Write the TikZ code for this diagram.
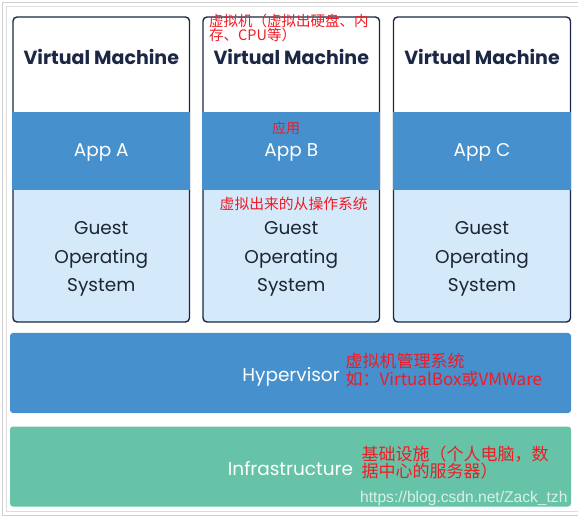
\documentclass[tikz,border=0pt]{standalone}
\usepackage{fontspec}
\setmainfont{Poppins}
\newfontfamily\cjk{Noto Sans CJK SC}
\newfontfamily\wmfont{Liberation Sans}
\definecolor{navy}{HTML}{1B2744}
\definecolor{appblue}{HTML}{4590CD}
\definecolor{osblue}{HTML}{D4E9F9}
\definecolor{infragreen}{HTML}{66C3A7}
\definecolor{notered}{HTML}{EE1C25}
\definecolor{framegray}{HTML}{CFCFCF}
\definecolor{textdark}{HTML}{1E2533}
\tikzset{
  vmtitle/.style={font=\fontsize{19}{22}\selectfont\bfseries, text=navy, inner sep=0pt},
  apptext/.style={font=\fontsize{18.5}{22}\selectfont, text=white, inner sep=0pt},
  ostext/.style={font=\fontsize{18.5}{28.5}\selectfont, text=textdark, align=center, inner sep=0pt},
  layerbox/.style={rounded corners=3pt, minimum width=561pt, minimum height=80pt, inner sep=0pt,
     fill=#1},
  layertext/.style={text=white, font=\fontsize{18.5}{22}\selectfont, inner sep=0pt},
  note/.style={text=notered, inner sep=0pt, align=left, anchor=north west},
  watermark/.style={font=\wmfont\fontsize{15.6}{17}\selectfont, text=white, text opacity=0.75, inner sep=0pt, anchor=west}
}
\begin{document}
\begin{tikzpicture}[x=1pt,y=-1pt]
\useasboundingbox (0,0) rectangle (578,518);
\fill[white] (0,0) rectangle (578,518);
% frame lines
\draw[framegray, line width=1pt] (2,3) -- (578,3);
\draw[framegray!70, line width=1pt] (6,7) -- (578,7);
\draw[framegray, line width=1pt] (2,3) -- (2,515);
\draw[framegray!70, line width=1pt] (6,7) -- (6,511);
\draw[framegray!70, line width=1pt] (6,511) -- (578,511);
\draw[framegray, line width=1pt] (2,515) -- (578,515);

% virtual machines
\foreach \L/\R/\n/\lt in {13/189.5/1/A, 203/379.5/2/B, 393.5/570.5/3/C}{
  \begin{scope}
    \clip[rounded corners=4pt] (\L,17) rectangle (\R,322);
    \fill[white] (\L,17) rectangle (\R,322);
    \fill[osblue] (\L,190) rectangle (\R,322);
  \end{scope}
  \draw[navy, line width=1.4pt, rounded corners=4pt] (\L,17) rectangle (\R,322);
  \fill[appblue] (\L-0.7,112) rectangle (\R+0.7,190);
  \node[vmtitle] (vm\n) at ({(\L+\R)/2},57) {Virtual Machine};
  \node[apptext] (app\n) at ({(\L+\R)/2},152.5) {App \lt};
  \node[ostext] (os\n) at ({(\L+\R)/2},259) {Guest\\Operating\\System};
}

% hypervisor and infrastructure
\node[layerbox=appblue] (hyp) at (290.5,373) {};
\node[layertext] (hyplabel) at (291,376.5) {Hypervisor};
\node[layerbox=infragreen] (infra) at (290.5,466.5) {};
\node[layertext] (infralabel) at (290.5,468.5) {Infrastructure};

% red annotations
\node[note, font=\cjk\fontsize{14.5}{12.8}\selectfont] (n1) at (209,13.5) {虚拟机（虚拟出硬盘、内\\存、CPU等）};
\node[note, font=\cjk\fontsize{14}{14}\selectfont] (n2) at (272,121.5) {应用};
\node[note, font=\cjk\fontsize{14.8}{15}\selectfont] (n3) at (219.5,196.5) {虚拟出来的从操作系统};
\node[note, font=\cjk\fontsize{17}{18}\selectfont] (n4) at (345.5,352.5) {虚拟机管理系统\\如：VirtualBox或VMWare};
\node[note, font=\cjk\fontsize{17}{17}\selectfont] (n5) at (361.5,445.5) {基础设施（个人电脑，数\\据中心的服务器）};
\node[watermark] (wm) at (360,498) {https://blog.csdn.net/Zack\_tzh};
\end{tikzpicture}
\end{document}
